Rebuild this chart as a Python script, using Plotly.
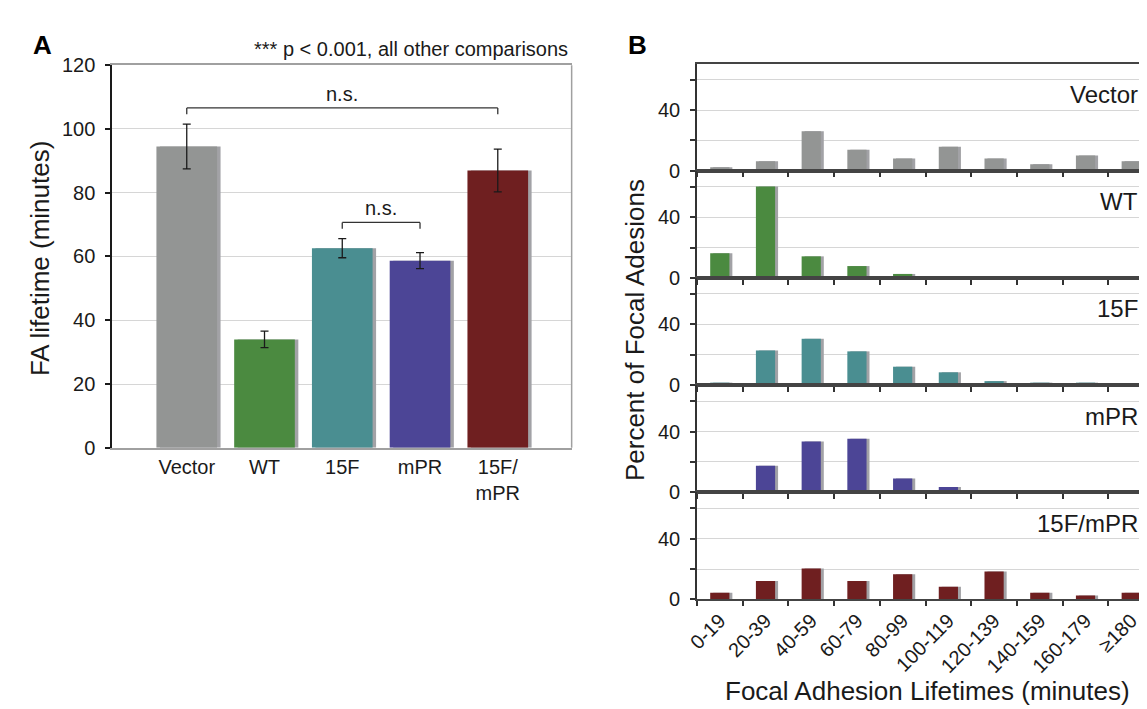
import plotly.graph_objects as go

W, H = 1147, 709
FONT = "Liberation Sans, Arial, sans-serif"

# ---------------- Panel A data ----------------
groups = ["Vector", "WT", "15F", "mPR", "15F/mPR"]
group_ticktext = ["Vector", "WT", "15F", "mPR", "15F/<br>mPR"]
lifetime = [94.5, 34.0, 62.6, 58.7, 87.0]
lifetime_err = [7.0, 2.6, 3.0, 2.5, 6.7]
group_colors = ["#939594", "#4b8a40", "#4a8e91", "#4c4596", "#6f1f20"]
brackets = [("Vector", "15F/mPR", 106.6), ("15F", "mPR", 70.7)]

# ---------------- Panel B data ----------------
bins = ["0-19", "20-39", "40-59", "60-79", "80-99", "100-119",
        "120-139", "140-159", "160-179", "≥180"]
pct_vector = [2.3, 6.2, 26.0, 13.8, 8.1, 15.8, 8.1, 4.3, 10.0, 6.2]
pct_wt = [16.2, 60.3, 14.2, 7.8, 2.6, 0, 0, 0, 0, 0]
pct_15f = [1.6, 22.8, 30.5, 22.2, 12.1, 8.4, 2.6, 1.6, 1.6, 0]
pct_mpr = [1.5, 17.4, 33.4, 35.3, 9.1, 3.4, 1.5, 0, 1.5, 0]
pct_15fmpr = [4.4, 12.1, 20.3, 12.1, 16.5, 8.3, 18.4, 4.4, 2.5, 4.4]
hist_series = [("Vector", pct_vector), ("WT", pct_wt), ("15F", pct_15f),
               ("mPR", pct_mpr), ("15F/mPR", pct_15fmpr)]

SHADOW = "#a2a2a6"


def fx(p):
    return p / W


def fy(p):
    return 1 - p / H


fig = go.Figure()

# ---------- Panel A ----------
wA = 0.78
fig.add_trace(go.Bar(x=groups, y=lifetime, width=wA, offset=-wA / 2 + 0.045,
                     marker=dict(color=SHADOW, line=dict(width=0)),
                     xaxis="x", yaxis="y", showlegend=False, hoverinfo="skip"))
fig.add_trace(go.Bar(x=groups, y=lifetime, width=wA, offset=-wA / 2,
                     marker=dict(color=group_colors, line=dict(width=0)),
                     error_y=dict(type="data", array=lifetime_err, color="#1a1a1a",
                                  thickness=1.3, width=4),
                     xaxis="x", yaxis="y", showlegend=False))

layout = dict(
    width=W, height=H,
    margin=dict(l=0, r=0, t=0, b=0),
    paper_bgcolor="white", plot_bgcolor="white",
    barmode="overlay",
    font=dict(family=FONT, color="#1a1a1a", size=20),
    showlegend=False,
)

layout["xaxis"] = dict(
    domain=[fx(94), fx(558)], anchor="y", type="category",
    categoryorder="array", categoryarray=groups,
    range=[-0.96, 4.95], tickmode="array", tickvals=groups, ticktext=group_ticktext,
    showline=True, linecolor="#a0a0a0", linewidth=1.5, mirror=True,
    ticks="", showgrid=False, zeroline=False,
    tickfont=dict(size=20, family=FONT, color="#1a1a1a"),
)
layout["yaxis"] = dict(
    domain=[fy(442.5), fy(47.7)], anchor="x", range=[0, 120], dtick=20,
    showline=True, linecolor="#1a1a1a", linewidth=1.5,
    ticks="outside", ticklen=5, tickcolor="#1a1a1a", tickwidth=1.5,
    showgrid=True, gridcolor="#d6d6d6", gridwidth=1, zeroline=False,
    tickfont=dict(size=20, family=FONT, color="#1a1a1a"),
    ticklabelstandoff=6,
)

shapes = []
annotations = []
# right border of panel A
shapes.append(dict(type="line", xref="x domain", yref="y domain", x0=1, x1=1, y0=0, y1=1,
                   line=dict(color="#a0a0a0", width=1.5)))
# significance brackets
for g0, g1, lvl in brackets:
    i0, i1 = groups.index(g0), groups.index(g1)
    drop = 2.0
    for (xa, ya, xb, yb) in [(i0, lvl - drop, i0, lvl), (i0, lvl, i1, lvl), (i1, lvl, i1, lvl - drop)]:
        shapes.append(dict(type="line", xref="x", yref="y", x0=xa, y0=ya, x1=xb, y1=yb,
                           line=dict(color="#333333", width=1.3)))
    annotations.append(dict(text="n.s.", xref="x", yref="y", x=(i0 + i1) / 2, y=lvl,
                            yanchor="bottom", xanchor="center", showarrow=False, yshift=1,
                            font=dict(size=20, family=FONT, color="#1a1a1a")))

annotations.append(dict(text="*** p < 0.001, all other comparisons", xref="paper", yref="paper",
                        x=fx(556), y=fy(31), xanchor="right", yanchor="middle", showarrow=False,
                        font=dict(size=20, family=FONT, color="#1a1a1a")))
annotations.append(dict(text="FA lifetime (minutes)", xref="paper", yref="paper",
                        x=fx(22), y=fy(247), xanchor="center", yanchor="middle", textangle=-90,
                        showarrow=False, font=dict(size=26, family=FONT, color="#1a1a1a")))
annotations.append(dict(text="<b>A</b>", xref="paper", yref="paper", x=fx(24), y=fy(27),
                        xanchor="center", yanchor="middle", showarrow=False,
                        font=dict(size=26, family=FONT, color="#000000")))
annotations.append(dict(text="<b>B</b>", xref="paper", yref="paper", x=fx(624), y=fy(27),
                        xanchor="center", yanchor="middle", showarrow=False,
                        font=dict(size=26, family=FONT, color="#000000")))

# ---------- Panel B ----------
wB = 0.42
top0, ph = 46.0, 110.6
for k, (name, vals) in enumerate(hist_series):
    n = k + 2
    xa, ya = f"x{n}", f"y{n}"
    col = group_colors[groups.index(name)]
    fig.add_trace(go.Bar(x=bins, y=vals, width=wB, offset=-wB / 2 + 0.065,
                         marker=dict(color=SHADOW, line=dict(width=0)),
                         xaxis=xa, yaxis=ya, showlegend=False, hoverinfo="skip"))
    fig.add_trace(go.Bar(x=bins, y=vals, width=wB, offset=-wB / 2,
                         marker=dict(color=col, line=dict(width=0)),
                         xaxis=xa, yaxis=ya, showlegend=False))
    top = top0 + ph * k
    bot = top + ph
    last = (k == len(hist_series) - 1)
    layout[f"xaxis{n}"] = dict(
        domain=[fx(684.5), 1.0], anchor=ya, type="category",
        categoryorder="array", categoryarray=bins, range=[-0.5, 9.52],
        tickson="boundaries", ticks="outside", ticklen=5, tickwidth=1.5, tickcolor="#333333",
        showline=True, linecolor="#444444", linewidth=1.5, mirror=True,
        showgrid=False, zeroline=False, showticklabels=last, tickangle=-45,
        tickfont=dict(size=20, family=FONT, color="#1a1a1a"),
    )
    layout[f"yaxis{n}"] = dict(
        domain=[fy(bot), fy(top)], anchor=xa, range=[0, 70.6],
        tickmode="array", tickvals=[0, 20, 40, 60], ticktext=["0", "", "40", ""],
        ticks="outside", ticklen=5, tickwidth=1.5, tickcolor="#333333",
        showline=True, linecolor="#333333", linewidth=1.5,
        showgrid=True, gridcolor="#d6d6d6", gridwidth=1, zeroline=False,
        tickfont=dict(size=20, family=FONT, color="#1a1a1a"), ticklabelstandoff=6,
    )
    annotations.append(dict(text=name, xref="paper", yref="paper", x=fx(1132), y=fy(top + 32),
                            xanchor="right", yanchor="middle", showarrow=False,
                            font=dict(size=24, family=FONT, color="#1a1a1a")))

annotations.append(dict(text="Percent of Focal Adesions", xref="paper", yref="paper",
                        x=fx(622), y=fy(321), xanchor="center", yanchor="middle", textangle=-90,
                        showarrow=False, font=dict(size=26, family=FONT, color="#1a1a1a")))
annotations.append(dict(text="Focal Adhesion Lifetimes (minutes)", xref="paper", yref="paper",
                        x=fx(917), y=fy(694), xanchor="center", yanchor="middle",
                        showarrow=False, font=dict(size=26, family=FONT, color="#1a1a1a")))

layout["shapes"] = shapes
layout["annotations"] = annotations
fig.update_layout(**layout)

fig.write_html("out.html")
